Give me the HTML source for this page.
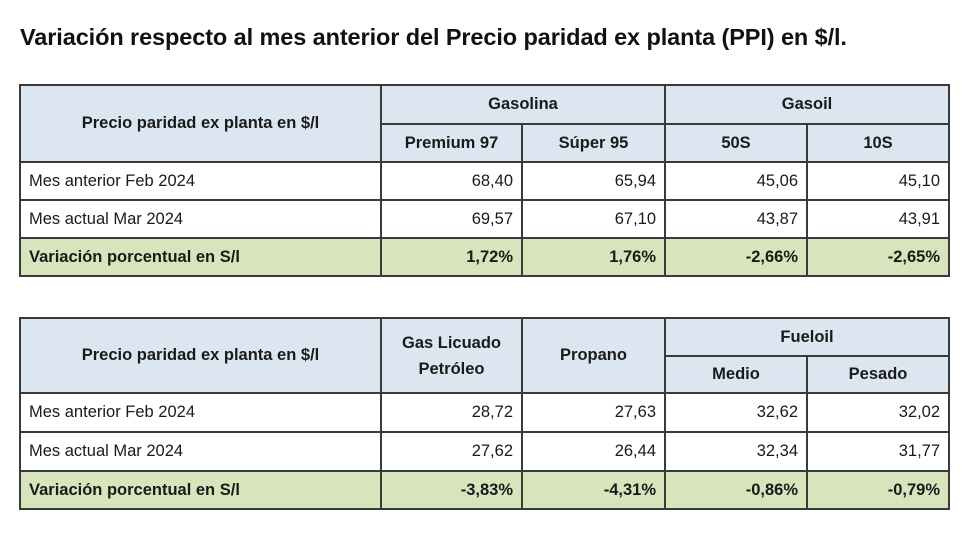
<!DOCTYPE html>
<html><head><meta charset="utf-8"><style>
body{margin:0;width:978px;height:538px;background:#fff;font-family:"Liberation Sans",sans-serif;color:#1a1a1a;position:relative;overflow:hidden}
h1{position:absolute;left:20px;top:24px;margin:0;font-size:23.5px;font-weight:bold;color:#111;letter-spacing:-0.1px;white-space:nowrap}
table{position:absolute;left:19px;border-collapse:collapse;table-layout:fixed;font-size:16.5px}
td{border:2px solid #3a3a3a;padding:0 8px;white-space:nowrap}
.h{background:#dce6f1;font-weight:bold;text-align:center}
.n{text-align:right}
.v td{background:#d8e4bc;font-weight:bold}
</style></head><body>
<h1>Variación respecto al mes anterior del Precio paridad ex planta (PPI) en $/l.</h1>
<table style="top:84px;width:929px">
<colgroup><col style="width:361px"><col style="width:141px"><col style="width:143px"><col style="width:142px"><col style="width:142px"></colgroup>
<tr style="height:39px"><td class="h" rowspan="2">Precio paridad ex planta en $/l</td><td class="h" colspan="2">Gasolina</td><td class="h" colspan="2">Gasoil</td></tr>
<tr style="height:38px"><td class="h">Premium 97</td><td class="h">Súper 95</td><td class="h">50S</td><td class="h">10S</td></tr>
<tr style="height:38px"><td>Mes anterior Feb 2024</td><td class="n">68,40</td><td class="n">65,94</td><td class="n">45,06</td><td class="n">45,10</td></tr>
<tr style="height:38px"><td>Mes actual Mar 2024</td><td class="n">69,57</td><td class="n">67,10</td><td class="n">43,87</td><td class="n">43,91</td></tr>
<tr class="v" style="height:38px"><td>Variación porcentual en S/l</td><td class="n">1,72%</td><td class="n">1,76%</td><td class="n">-2,66%</td><td class="n">-2,65%</td></tr>
</table>
<table style="top:317px;width:929px">
<colgroup><col style="width:361px"><col style="width:141px"><col style="width:143px"><col style="width:142px"><col style="width:142px"></colgroup>
<tr style="height:38px"><td class="h" rowspan="2">Precio paridad ex planta en $/l</td><td class="h" rowspan="2" style="line-height:26px">Gas Licuado<br>Petróleo</td><td class="h" rowspan="2">Propano</td><td class="h" colspan="2">Fueloil</td></tr>
<tr style="height:37px"><td class="h">Medio</td><td class="h">Pesado</td></tr>
<tr style="height:39px"><td>Mes anterior Feb 2024</td><td class="n">28,72</td><td class="n">27,63</td><td class="n">32,62</td><td class="n">32,02</td></tr>
<tr style="height:39px"><td>Mes actual Mar 2024</td><td class="n">27,62</td><td class="n">26,44</td><td class="n">32,34</td><td class="n">31,77</td></tr>
<tr class="v" style="height:38px"><td>Variación porcentual en S/l</td><td class="n">-3,83%</td><td class="n">-4,31%</td><td class="n">-0,86%</td><td class="n">-0,79%</td></tr>
</table>
</body></html>
